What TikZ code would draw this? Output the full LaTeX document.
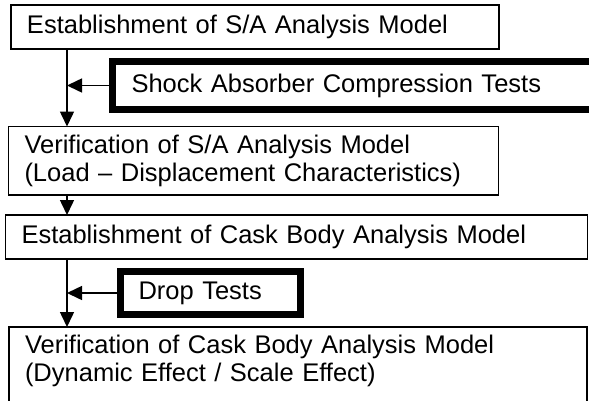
\documentclass[tikz,border=0pt]{standalone}
\usepackage{fontspec}
\setmainfont{Liberation Sans}
\usetikzlibrary{%
  arrows.meta,%
  positioning,%
  calc%
}

\begin{document}
\begin{tikzpicture}[
  x=1pt, y=-1pt,
  font=\fontsize{25.5}{28.5}\selectfont, >={Triangle[length=15pt,width=14pt]},
  stage/.style={rectangle, anchor=north west, draw=black, line width=1.5pt, outer sep=0pt, inner xsep=16pt, inner ysep=8pt, align=left},
  testbox/.style={rectangle, anchor=north west, draw=black, line width=7pt, outer sep=0pt, inner xsep=18pt, inner ysep=8pt, align=left},
  flow/.style={->, line width=1.5pt}
]
\useasboundingbox (0,0) rectangle (589,400);
\clip (0,0) rectangle (589,400);

\coordinate (spine) at (67,0);

\node[stage, text width=456pt, minimum height=44pt] (estsa) at (11,5) {Establishment of S/A Analysis Model};
\node[testbox, inner xsep=19pt, text width=469pt, minimum height=48pt] (sacomp) at (112.5,61.5) {Shock Absorber Compression Tests};
\node[stage, text width=458pt, minimum height=68.5pt] (versa) at (8.5,126.5) {Verification of S/A Analysis Model\\(Load – Displacement Characteristics)};
\node[stage, text width=550pt, minimum height=44pt] (estcask) at (5.5,215) {Establishment of Cask Body Analysis Model};
\node[testbox, text width=144pt, minimum height=43pt] (drop) at (120.5,271.5) {Drop Tests};
\node[stage, text width=546pt, text depth=80pt] (vercask) at (9,327) {Verification of Cask Body Analysis Model\\(Dynamic Effect / Scale Effect)};

% main flow down the left side
\draw[flow] (estsa.south -| spine) -- (versa.north -| spine);
\draw[flow] (versa.south -| spine) -- (estcask.north -| spine);
\draw[flow] (estcask.south -| spine) -- (vercask.north -| spine);
% test inputs
\draw[flow] (sacomp.west) -- (sacomp.west -| spine);
\draw[flow] (drop.west) -- (drop.west -| spine);
\end{tikzpicture}
\end{document}
